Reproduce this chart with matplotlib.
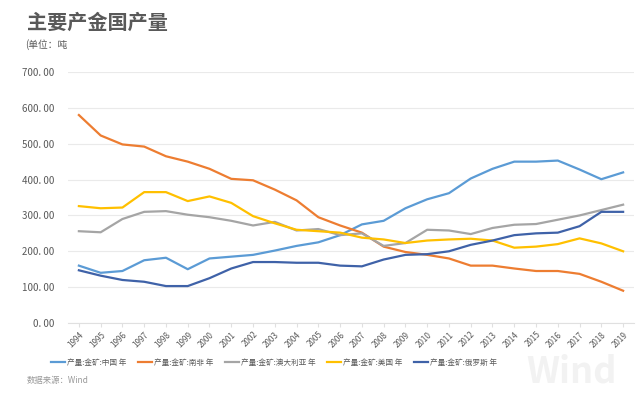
import matplotlib
matplotlib.use("Agg")
import matplotlib.pyplot as plt
import numpy as np

plt.rcParams['font.family'] = ['Noto Sans CJK SC', 'DejaVu Sans']

years = list(range(1994, 2020))
china = [160, 140, 145, 175, 182, 150, 180, 185, 190, 202, 215, 225, 245, 275, 285, 320,
         345, 362, 403, 430, 450, 450, 453, 428, 401, 420]
south_africa = [580, 523, 498, 492, 465, 450, 430, 402, 398, 372, 342, 295, 272, 252, 213, 198,
                190, 180, 160, 160, 152, 145, 145, 137, 115, 90]
australia = [256, 253, 290, 310, 312, 302, 295, 285, 272, 282, 258, 262, 245, 250, 215, 223,
             260, 258, 248, 265, 274, 276, 288, 300, 315, 330]
usa = [326, 320, 322, 365, 365, 340, 353, 335, 298, 278, 260, 256, 252, 238, 233, 223,
       230, 233, 235, 230, 210, 213, 220, 236, 222, 200]
russia = [147, 132, 120, 115, 103, 103, 125, 152, 170, 170, 168, 168, 160, 158, 177, 190,
          192, 200, 218, 230, 245, 250, 252, 270, 310, 310]

series = [
    ("产量:金矿:中国 年", china, "#5B9BD5"),
    ("产量:金矿:南非 年", south_africa, "#ED7D31"),
    ("产量:金矿:澳大利亚 年", australia, "#A5A5A5"),
    ("产量:金矿:美国 年", usa, "#FFC000"),
    ("产量:金矿:俄罗斯 年", russia, "#3F62A8"),
]
yticks = [0, 100, 200, 300, 400, 500, 600, 700]
ytick_labels = ["%d. 00" % v for v in yticks]

fig = plt.figure(figsize=(6.41, 3.96), dpi=100)
ax = fig.add_axes([68/641, 1-323/396, (634-68)/641, (323-72)/396])

for name, vals, col in series:
    ax.plot(years, vals, color=col, lw=1.6, label=name, solid_joinstyle='round')

ax.set_xlim(1993.5, 2019.5)
ax.set_ylim(0, 700)
ax.set_yticks(yticks)
ax.set_yticklabels(ytick_labels, fontsize=7, color="#595959")
ax.set_xticks(years)
ax.set_xticklabels([str(y) for y in years], fontsize=5.8, color="#595959",
                   rotation=45, ha='right', va='top', rotation_mode='anchor')
ax.tick_params(axis='y', length=0, pad=10)
ax.tick_params(axis='x', length=3, color="#E0E0E0", pad=2)
ax.grid(axis='y', color="#EAEAEA", lw=0.8)
for s in ['top', 'right', 'left']:
    ax.spines[s].set_visible(False)
ax.spines['bottom'].set_color("#E0E0E0")
ax.set_axisbelow(True)

fig.text(27/641, 1-22/396, "主要产金国产量", fontsize=14.5, color="#595959",
         weight='bold', va='center', ha='left')
fig.text(25/641, 1-45/396, "(单位：吨", fontsize=7, color="#595959", va='center', ha='left')
fig.text(27/641, 1-380/396, "数据来源：Wind", fontsize=6, color="#999999", va='center', ha='left')
fig.text(572/641, 1-372/396, "Wind", fontsize=26, color="#F2F2F2", weight='bold',
         va='center', ha='center', zorder=0)

leg = fig.legend(loc='center', bbox_to_anchor=(274/641, 1-363/396), ncol=5, frameon=False,
                 fontsize=5.5, handlelength=1.8, handletextpad=0.3, columnspacing=1.5,
                 labelcolor="#595959")
for l in leg.get_lines():
    l.set_linewidth(1.6)

fig.savefig("out.png", dpi=100)
